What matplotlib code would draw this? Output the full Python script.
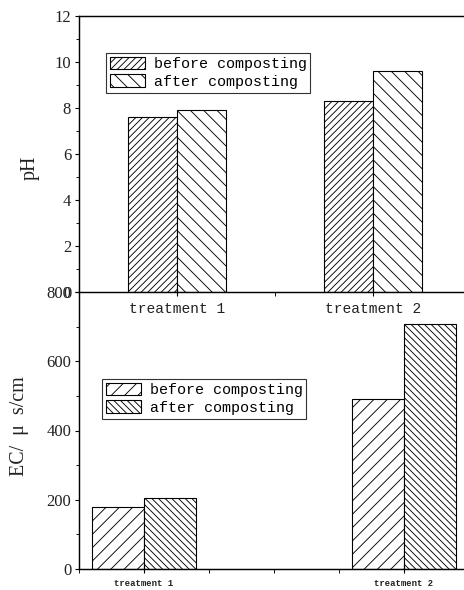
import matplotlib
matplotlib.use('Agg')
import matplotlib.pyplot as plt
from matplotlib.ticker import MultipleLocator

# 数据
categories = ['treatment 1', 'treatment 2']
series_names = ['before composting', 'after composting']
ph_before = [7.6, 8.3]
ph_after = [7.9, 9.6]
ec_before = [180, 490]
ec_after = [205, 707]
ph_ticks = [0, 2, 4, 6, 8, 10, 12]
ec_ticks = [0, 200, 400, 600, 800]

plt.rcParams['hatch.linewidth'] = 0.8
plt.rcParams['hatch.color'] = 'black'

DPI = 80
W, H = 464, 590
fig = plt.figure(figsize=(W / DPI, H / DPI), dpi=DPI)

serif = ['Liberation Serif', 'DejaVu Serif']
mono = ['Liberation Mono', 'DejaVu Sans Mono']
text_color = '#222222'


def px_axes(left, top, right, bottom):
    return fig.add_axes([left / W, 1 - bottom / H, (right - left) / W, (bottom - top) / H])


def style_axes(ax, yticks, ylim, minor_y, xlabel_size, xlabel_weight):
    x = list(range(1, len(categories) + 1))
    ax.set_ylim(*ylim)
    ax.set_yticks(yticks)
    ax.yaxis.set_minor_locator(MultipleLocator(minor_y))
    ax.set_xticks(x)
    ax.set_xticklabels(categories, family=mono, fontsize=xlabel_size,
                       fontweight=xlabel_weight, color=text_color)
    for lbl in ax.get_yticklabels():
        lbl.set_family(serif)
        lbl.set_fontsize(15)
        lbl.set_color(text_color)
    ax.tick_params(axis='y', which='major', direction='out', length=4, width=1, pad=3)
    ax.tick_params(axis='y', which='minor', direction='out', length=2.5, width=0.8)
    ax.tick_params(axis='x', which='major', direction='inout', length=8, width=1, pad=5)
    ax.tick_params(axis='x', which='minor', direction='out', length=4, width=0.8)
    ax.spines['right'].set_visible(False)
    for s in ['left', 'bottom', 'top']:
        ax.spines[s].set_linewidth(1.3)


# 上图 pH
ax1 = px_axes(79, 16, 471, 292)
w1 = 0.25
x = [i + 1 for i in range(len(categories))]
ax1.bar([v - w1 / 2 for v in x], ph_before, w1, color='white', edgecolor='black',
        linewidth=1, hatch='////', label=series_names[0])
ax1.bar([v + w1 / 2 for v in x], ph_after, w1, color='white', edgecolor='black',
        linewidth=1, hatch='\\\\', label=series_names[1])
ax1.set_xlim(0.5, 2.5)
style_axes(ax1, ph_ticks, (0, 12), 1, 13, 'normal')
ax1.xaxis.set_minor_locator(MultipleLocator(0.5))
ax1.legend(loc='upper left', bbox_to_anchor=(27 / 392, (292 - 53) / 276), borderaxespad=0,
           prop={'family': mono, 'size': 13.5}, handlelength=2.33, handleheight=0.93,
           handletextpad=0.6, borderpad=0.25, labelspacing=0.2, fancybox=False,
           framealpha=1, edgecolor='#333333')

# 下图 EC
ax2 = px_axes(79, 292, 469, 569)
ax2.patch.set_visible(False)
w2 = 0.2
ax2.bar([v - w2 / 2 for v in x], ec_before, w2, color='white', edgecolor='black',
        linewidth=1, hatch='//', label=series_names[0])
ax2.bar([v + w2 / 2 for v in x], ec_after, w2, color='white', edgecolor='black',
        linewidth=1, hatch='\\\\\\\\', label=series_names[1])
ax2.set_xlim(0.75, 2.25)
style_axes(ax2, ec_ticks, (0, 800), 100, 8, 'bold')
ax2.xaxis.set_minor_locator(MultipleLocator(0.25))
ax2.spines['top'].set_visible(False)
ax2.legend(loc='upper left', bbox_to_anchor=(23 / 390, (569 - 379) / 277), borderaxespad=0,
           prop={'family': mono, 'size': 13.5}, handlelength=2.33, handleheight=0.93,
           handletextpad=0.6, borderpad=0.25, labelspacing=0.2, fancybox=False,
           framealpha=1, edgecolor='#333333')

# 坐标轴标题
fig.text(30 / W, 1 - 168 / H, 'pH', rotation=90, ha='center', va='center',
         family=serif, fontsize=18, color=text_color)
fig.text(20 / W, 1 - 426 / H, 'EC/  μ  s/cm', rotation=90, ha='center', va='center',
         family=serif, fontsize=18, color=text_color)

ax1.set_zorder(2)
ax1.patch.set_visible(False)

fig.savefig('out.png', dpi=DPI)
